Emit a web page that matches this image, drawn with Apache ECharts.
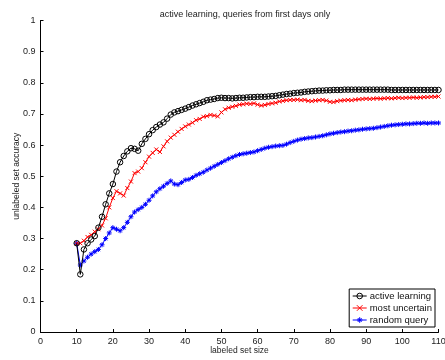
<!DOCTYPE html>
<html>
<head>
<meta charset="utf-8">
<script src="https://cdn.jsdelivr.net/npm/echarts@6/dist/echarts.min.js"></script>
<style>
  html, body { margin: 0; padding: 0; background: #fff; }
  #chart { width: 445px; height: 360px; }
</style>
</head>
<body>
<div id="chart"></div>
<script>
// labeled set size 10..110
var sizes = []
for (var s = 10; s <= 110; s++) sizes.push(s)

var activeLearning = [
  0.285, 0.185, 0.265, 0.285, 0.297, 0.308, 0.335, 0.37, 0.41, 0.445,
  0.475, 0.515, 0.545, 0.565, 0.58, 0.59, 0.588, 0.582, 0.604, 0.62,
  0.635, 0.648, 0.658, 0.666, 0.673, 0.685, 0.698, 0.705, 0.709, 0.713,
  0.717, 0.722, 0.727, 0.731, 0.735, 0.739, 0.744, 0.746, 0.748, 0.751,
  0.752, 0.751, 0.751, 0.75, 0.751, 0.752, 0.752, 0.753, 0.754, 0.754,
  0.755, 0.755, 0.755, 0.756, 0.757, 0.758, 0.76, 0.762, 0.764, 0.765,
  0.767, 0.768, 0.769, 0.771, 0.772, 0.773, 0.774, 0.775, 0.775, 0.776,
  0.776, 0.777, 0.777, 0.777, 0.778, 0.778, 0.778, 0.778, 0.778, 0.778,
  0.778, 0.778, 0.778, 0.778, 0.778, 0.778, 0.778, 0.777, 0.777, 0.777,
  0.777, 0.777, 0.777, 0.777, 0.777, 0.777, 0.777, 0.777, 0.777, 0.777,
  0.777
]
var mostUncertain = [
  0.285, 0.285, 0.293, 0.305, 0.312, 0.322, 0.33, 0.342, 0.365, 0.4,
  0.43, 0.452, 0.445, 0.438, 0.462, 0.483, 0.51, 0.515, 0.526, 0.545,
  0.563, 0.575, 0.586, 0.578, 0.596, 0.612, 0.624, 0.633, 0.643, 0.652,
  0.66, 0.666, 0.672, 0.68, 0.684, 0.691, 0.693, 0.697, 0.695, 0.692,
  0.705, 0.715, 0.72, 0.723, 0.726, 0.73, 0.731, 0.733, 0.732, 0.734,
  0.73, 0.727, 0.729, 0.732, 0.734, 0.736, 0.74, 0.742, 0.744, 0.745,
  0.745, 0.746, 0.744, 0.745, 0.742, 0.741, 0.743, 0.744, 0.745, 0.743,
  0.739, 0.738, 0.741, 0.743, 0.744, 0.745, 0.744, 0.746, 0.747, 0.748,
  0.749, 0.748, 0.749, 0.75, 0.749, 0.75, 0.751, 0.75, 0.751, 0.752,
  0.751, 0.752, 0.752, 0.753, 0.752, 0.753, 0.754, 0.754, 0.755, 0.755,
  0.756
]
var randomQuery = [
  0.285, 0.215, 0.228, 0.24, 0.25, 0.258, 0.265, 0.28, 0.3, 0.318,
  0.335, 0.33, 0.325, 0.335, 0.352, 0.37, 0.385, 0.393, 0.4, 0.41,
  0.423, 0.437, 0.45, 0.46, 0.468, 0.477, 0.485, 0.475, 0.473, 0.48,
  0.488, 0.49, 0.496, 0.503, 0.508, 0.513, 0.52, 0.526, 0.532, 0.538,
  0.544, 0.55, 0.556, 0.561, 0.566, 0.57, 0.572, 0.574, 0.576, 0.578,
  0.582, 0.586, 0.59, 0.593, 0.595, 0.597, 0.598, 0.599, 0.603, 0.608,
  0.612, 0.616, 0.619, 0.621, 0.623, 0.624, 0.626, 0.628, 0.63, 0.633,
  0.636, 0.638, 0.64, 0.642, 0.643, 0.645, 0.646, 0.648, 0.649, 0.651,
  0.652, 0.653, 0.654, 0.656, 0.658, 0.66, 0.662, 0.664, 0.665, 0.666,
  0.667, 0.668, 0.668, 0.669, 0.67, 0.67, 0.671, 0.67, 0.671, 0.671,
  0.671
]
var seriesNames = ['active learning', 'most uncertain', 'random query']

// pair x with y
function pairs (ys) {
  return ys.map(function (y, i) { return [sizes[i], y] })
}

var font = 'Liberation Sans'
var crossSym = 'path://M0,0L10,10M10,0L0,10'
var starSym = 'path://M5,0L5,10M0,5L10,5M1.5,1.5L8.5,8.5M8.5,1.5L1.5,8.5'

var chart = echarts.init(document.getElementById('chart'), null, { renderer: 'canvas' })
var option = {
  animation: false,
  backgroundColor: '#fff',
  title: {
    text: 'active learning, queries from first days only',
    left: 240, top: 5, textAlign: 'center',
    textStyle: { fontFamily: font, fontSize: 9, fontWeight: 'normal', color: '#222' }
  },
  grid: {
    left: 40.5, right: 6.5, top: 20.5, bottom: 28,
    containLabel: false, outerBoundsMode: 'none'
  },
  legend: {
    orient: 'vertical',
    right: 10, bottom: 33,
    data: seriesNames,
    itemWidth: 14, itemHeight: 7, itemGap: 2,
    padding: [2, 3, 2, 3],
    borderColor: '#000', borderWidth: 1, backgroundColor: '#fff',
    lineStyle: { width: 1 },
    itemStyle: { borderWidth: 1 },
    textStyle: { fontFamily: font, fontSize: 9.5, color: '#111', padding: [0, 0, 0, -2] }
  },
  xAxis: {
    type: 'value', min: 0, max: 110, interval: 10,
    name: 'labeled set size', nameLocation: 'middle', nameGap: 14, nameMoveOverlap: false,
    nameTextStyle: { fontFamily: font, fontSize: 8.5, color: '#222' },
    axisLine: { lineStyle: { color: '#000', width: 1 } },
    axisTick: { inside: true, length: 3, lineStyle: { color: '#000' } },
    axisLabel: { fontFamily: font, fontSize: 9, color: '#222', margin: 5, showMaxLabel: true },
    splitLine: { show: false }
  },
  yAxis: {
    type: 'value', min: 0, max: 1, interval: 0.1,
    name: 'unlabeled set accuracy', nameLocation: 'middle', nameGap: 19, nameMoveOverlap: false,
    nameTextStyle: { fontFamily: font, fontSize: 8.5, color: '#222' },
    axisLine: { show: true, lineStyle: { color: '#000', width: 1 } },
    axisTick: { show: true, inside: true, length: 3, lineStyle: { color: '#000' } },
    axisLabel: { fontFamily: font, fontSize: 9, color: '#222', margin: 5 },
    splitLine: { show: false }
  },
  series: [
    {
      name: seriesNames[0], type: 'line', data: pairs(activeLearning),
      symbol: 'circle', symbolSize: 5.5, showAllSymbol: true,
      lineStyle: { color: '#000', width: 1 },
      itemStyle: { color: 'rgba(0,0,0,0)', borderColor: '#000', borderWidth: 1 },
      z: 4
    },
    {
      name: seriesNames[1], type: 'line', data: pairs(mostUncertain),
      symbol: crossSym, symbolSize: 4, showAllSymbol: true,
      lineStyle: { color: '#ff0000', width: 1 },
      itemStyle: { color: '#ff0000', borderColor: '#ff0000', borderWidth: 1 },
      z: 3
    },
    {
      name: seriesNames[2], type: 'line', data: pairs(randomQuery),
      symbol: starSym, symbolSize: 5, showAllSymbol: true,
      lineStyle: { color: '#0000ff', width: 1 },
      itemStyle: { color: '#0000ff', borderColor: '#0000ff', borderWidth: 1 },
      z: 2
    }
  ]
}
chart.setOption(option)
</script>
</body>
</html>
